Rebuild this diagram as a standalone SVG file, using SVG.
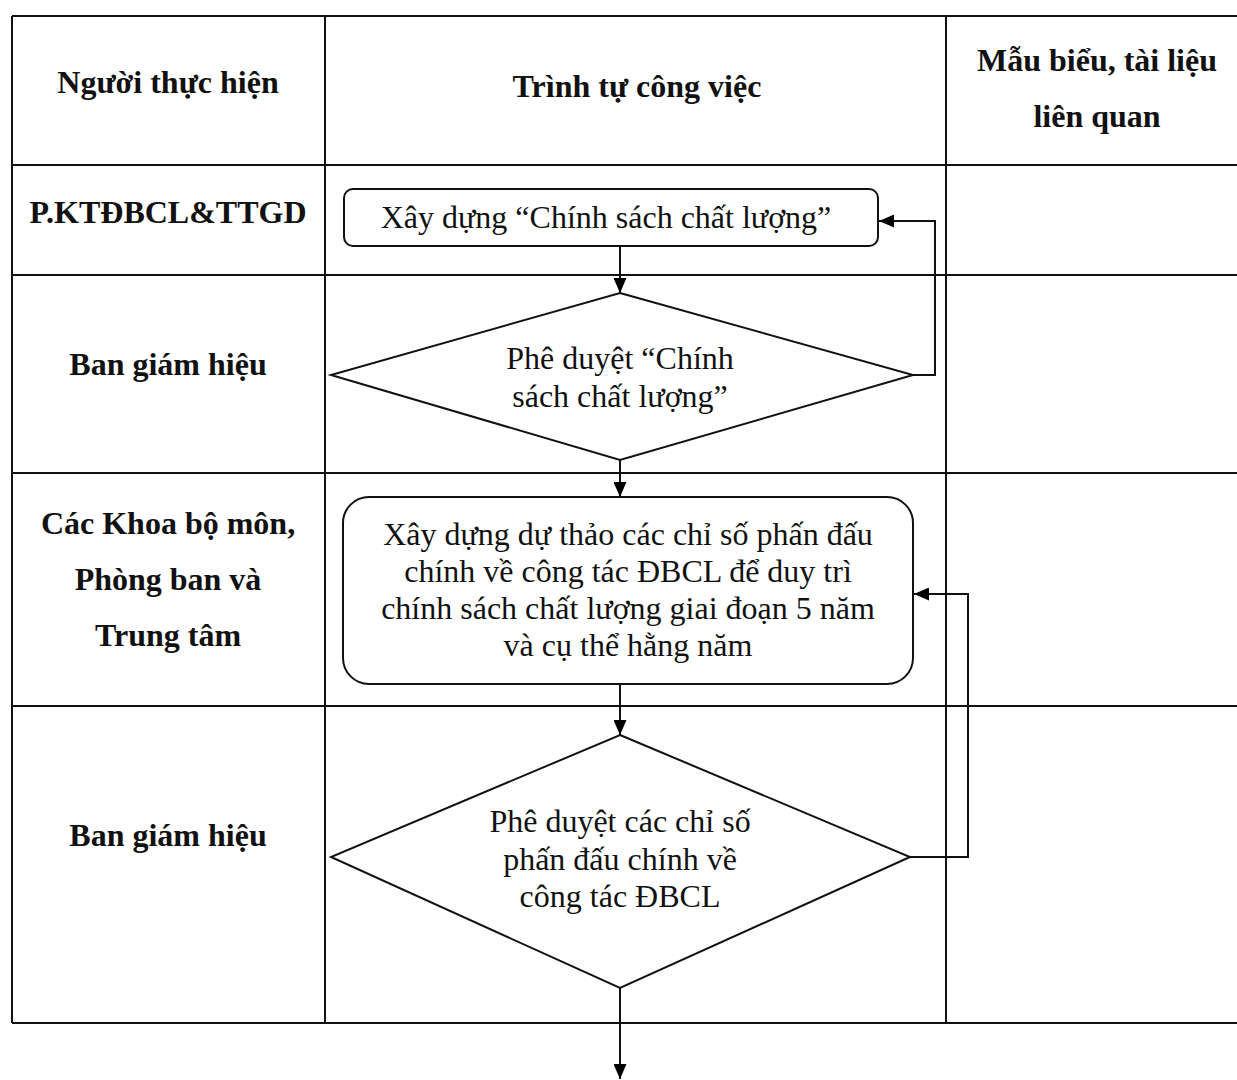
<svg xmlns="http://www.w3.org/2000/svg" width="1237" height="1080" viewBox="0 0 1237 1080">
<defs>
<marker id="ah" markerWidth="15" markerHeight="13" refX="15" refY="6.5" orient="auto" markerUnits="userSpaceOnUse" viewBox="0 0 15 13">
<path d="M0,0 L15,6.5 L0,13 z" fill="#000"/>
</marker>
<style>
.grid{stroke:#111;stroke-width:2;fill:none}
.hd{font-family:"Liberation Serif","Times New Roman",serif;font-weight:bold;font-size:32px;fill:#111;text-anchor:middle}
.tx{font-family:"Liberation Serif","Times New Roman",serif;font-size:32px;fill:#111;text-anchor:middle}
.shape{fill:#fff;stroke:#111;stroke-width:2}
.conn{stroke:#111;stroke-width:2;fill:none}
</style>
</defs>
<rect width="1237" height="1080" fill="#fff"/>
<g id="table">
<path class="grid" d="M12,16 H1237 M12,16 V1023 M325,16 V1023 M946,16 V1023 M12,165 H1237 M12,275 H1237 M12,473 H1237 M12,706 H1237 M12,1023 H1237"/>
</g>
<g id="headers">
<text class="hd" x="168" y="93">Người thực hiện</text>
<text class="hd" x="637" y="97">Trình tự công việc</text>
<text class="hd" x="1097" y="71">Mẫu biểu, tài liệu</text>
<text class="hd" x="1097" y="127">liên quan</text>
</g>
<g id="lanes">
<text class="hd" x="168" y="223">P.KTĐBCL&amp;TTGD</text>
<text class="hd" x="168" y="375">Ban giám hiệu</text>
<text class="hd" x="168" y="534">Các Khoa bộ môn,</text>
<text class="hd" x="168" y="590">Phòng ban và</text>
<text class="hd" x="168" y="646">Trung tâm</text>
<text class="hd" x="168" y="846">Ban giám hiệu</text>
</g>
<g id="connectors">
<line class="conn" x1="620" y1="246" x2="620" y2="293" marker-end="url(#ah)"/>
<polyline class="conn" points="913,375 935,375 935,221 879,221" marker-end="url(#ah)"/>
<line class="conn" x1="620" y1="460" x2="620" y2="497" marker-end="url(#ah)"/>
<line class="conn" x1="620" y1="684" x2="620" y2="735" marker-end="url(#ah)"/>
<polyline class="conn" points="910,857 968,857 968,594 914,594" marker-end="url(#ah)"/>
<line class="conn" x1="620" y1="988" x2="620" y2="1079" marker-end="url(#ah)"/>
</g>
<g id="n1">
<rect class="shape" x="344" y="189" width="534" height="57" rx="9"/>
<text class="tx" x="606" y="228">Xây dựng “Chính sách chất lượng”</text>
</g>
<g id="n2">
<polygon class="shape" points="620,293 913,375 620,460 331,375"/>
<text class="tx" x="620" y="369">Phê duyệt “Chính</text>
<text class="tx" x="620" y="407">sách chất lượng”</text>
</g>
<g id="n3">
<rect class="shape" x="343" y="497" width="570" height="187" rx="26"/>
<text class="tx" x="628" y="545">Xây dựng dự thảo các chỉ số phấn đấu</text>
<text class="tx" x="628" y="582">chính về công tác ĐBCL để duy trì</text>
<text class="tx" x="628" y="619">chính sách chất lượng giai đoạn 5 năm</text>
<text class="tx" x="628" y="656">và cụ thể hằng năm</text>
</g>
<g id="n4">
<polygon class="shape" points="620,735 910,857 620,988 331,857"/>
<text class="tx" x="620" y="832">Phê duyệt các chỉ số</text>
<text class="tx" x="620" y="870">phấn đấu chính về</text>
<text class="tx" x="620" y="907">công tác ĐBCL</text>
</g>
</svg>
